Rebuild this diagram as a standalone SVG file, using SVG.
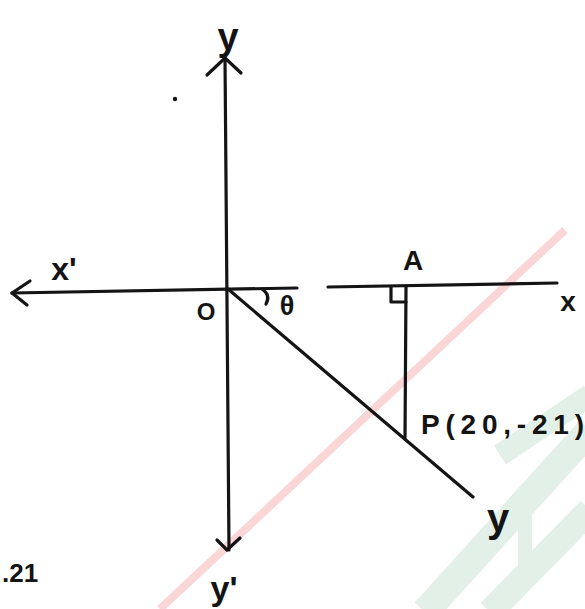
<svg xmlns="http://www.w3.org/2000/svg" width="585" height="609" viewBox="0 0 585 609">
<style>
.ln{stroke:#141414;stroke-width:3.2;fill:none;stroke-linecap:round;stroke-linejoin:round}
.lb{font-family:"Liberation Sans","DejaVu Sans",sans-serif;fill:#141414;font-weight:bold}
.wm{stroke-linecap:butt;fill:none}
.gs{stroke:#e2f0e8;stroke-linecap:butt;fill:none}
</style>
<rect width="585" height="609" fill="#ffffff"/>
<g id="watermark">
<line class="gs" x1="425" y1="612" x2="590" y2="430" stroke-width="28"/>
<line class="gs" x1="490" y1="612" x2="590" y2="510" stroke-width="26"/>
<line class="gs" x1="500" y1="455" x2="590" y2="395" stroke-width="22"/>
<line class="gs" x1="525" y1="495" x2="525" y2="565" stroke-width="14"/>
<line class="wm" x1="565" y1="230" x2="160" y2="609" stroke="#fbd6d6" stroke-width="8"/>
</g>
<g id="connectors">
<path class="ln" d="M225,58 L229,550"/>
<path class="ln" d="M207,75 L225,58 L241,73"/>
<path class="ln" d="M217,540 L227,550 L240,538"/>
<path class="ln" d="M12,293 L297,288"/>
<path class="ln" d="M30,281 L12,293 L27,305"/>
<path class="ln" d="M328,287 L557,283"/>
<path class="ln" d="M228,289 L473,497"/>
<path class="ln" d="M406,287 L405,439"/>
<path class="ln" stroke-width="2.6" d="M391,287 L391,302 L406,302"/>
<path class="ln" stroke-width="2.6" d="M262,289 Q271,295 266,304"/>
<circle cx="175" cy="99" r="2.2" fill="#141414"/>
</g>
<g id="label-y-top"><text class="lb" x="228" y="50" font-size="38" text-anchor="middle">y</text></g>
<g id="label-x-prime"><text class="lb" x="64" y="280" font-size="32" text-anchor="middle">x'</text></g>
<g id="label-O"><text class="lb" x="206" y="320" font-size="24" text-anchor="middle">O</text></g>
<g id="label-theta"><text class="lb" x="287" y="315" font-size="27" text-anchor="middle">θ</text></g>
<g id="label-A"><text class="lb" x="413" y="270" font-size="28" text-anchor="middle">A</text></g>
<g id="label-x"><text class="lb" x="568" y="311" font-size="28" text-anchor="middle">x</text></g>
<g id="label-P"><text class="lb" x="421" y="434" font-size="28" textLength="163" lengthAdjust="spacing">P(20,-21)</text></g>
<g id="label-y-bottom"><text class="lb" x="498" y="532" font-size="40" text-anchor="middle">y</text></g>
<g id="label-y-prime"><text class="lb" x="224" y="600" font-size="34" text-anchor="middle">y'</text></g>
<g id="label-21"><text class="lb" x="2" y="582" font-size="26">.21</text></g>
</svg>
